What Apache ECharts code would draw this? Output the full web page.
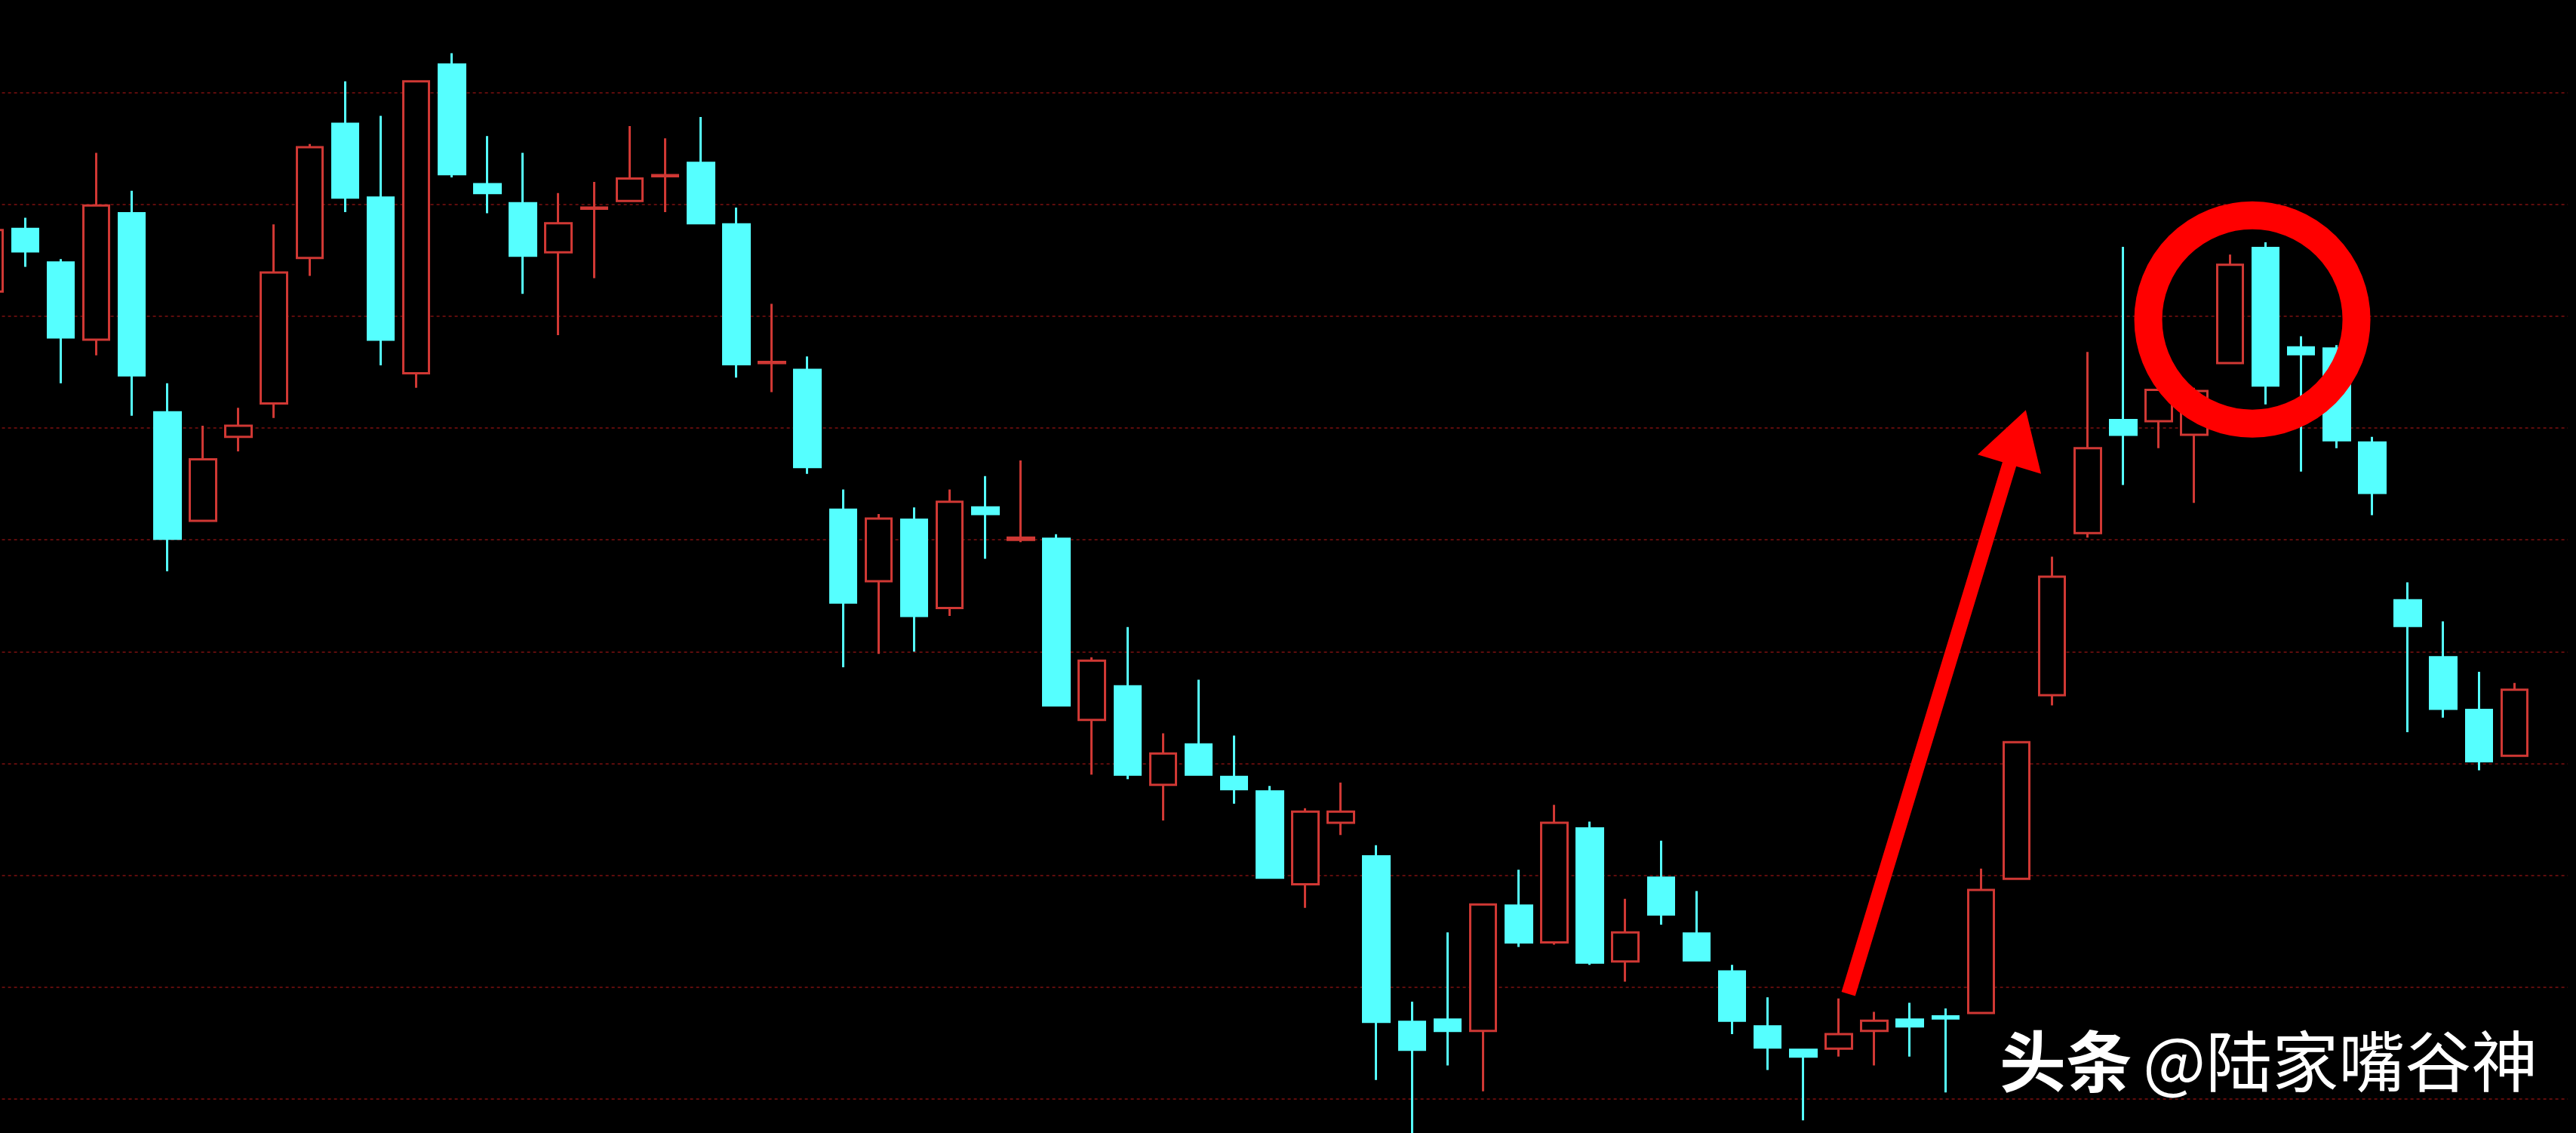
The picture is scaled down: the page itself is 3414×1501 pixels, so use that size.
<!DOCTYPE html>
<html>
<head>
<meta charset="utf-8">
<script src="https://cdn.jsdelivr.net/npm/echarts@6/dist/echarts.min.js"></script>
<style>
html,body{margin:0;padding:0;background:#000;}
#main{width:3414px;height:1501px;}
</style>
</head>
<body>
<div id="main"></div>
<script>
// ---- data (units are arbitrary price units, one grid step = 1) ----
const opens  = [17.22,17.78,17.48,16.79,17.92,16.14,15.17,15.92,16.22,17.52,18.72,18.06,16.49,19.25,18.18,18.01,17.57,17.96,18.03,18.25,18.37,17.82,16.58,16.52,15.27,14.63,15.18,14.39,15.29,15.00,15.01,13.39,13.69,12.81,13.17,12.88,12.75,11.92,12.47,12.17,10.69,10.71,10.61,11.73,11.40,12.42,11.23,11.98,11.48,11.14,10.65,10.44,10.45,10.61,10.71,10.74,10.77,11.97,13.61,15.06,16.07,16.06,15.94,16.58,17.61,16.72,16.71,15.87,14.46,13.95,13.48,13.07];
const closes = [17.77,17.58,16.81,17.99,16.47,15.01,15.72,16.02,17.39,18.51,18.06,16.79,19.10,18.27,18.10,17.54,17.83,17.97,18.23,18.26,17.83,16.57,16.59,15.65,14.44,15.19,14.32,15.34,15.23,15.02,13.52,13.92,12.90,13.09,12.90,12.77,11.98,12.57,12.57,10.69,10.44,10.61,11.74,11.40,12.47,11.22,11.49,11.65,11.24,10.70,10.46,10.38,10.58,10.70,10.65,10.72,11.87,13.19,14.67,15.82,15.94,16.34,16.33,17.46,16.38,16.66,15.89,15.42,14.23,13.49,13.02,13.66];
const lows   = [17.15,17.44,16.40,16.65,16.11,14.72,15.17,15.79,16.09,17.36,17.93,16.56,16.36,18.24,17.92,17.20,16.83,17.34,18.03,17.93,17.83,16.45,16.32,15.59,13.86,13.98,14.00,14.32,14.83,14.98,13.52,12.90,12.86,12.49,12.90,12.64,11.98,11.71,12.36,10.17,9.50,10.30,10.07,11.36,11.38,11.20,11.05,11.56,11.23,10.58,10.26,9.81,10.38,10.30,10.38,10.06,10.77,11.97,13.52,15.02,15.49,15.82,15.33,16.58,16.21,15.61,15.82,15.22,13.28,13.41,12.94,13.06];
const highs  = [17.85,17.88,17.51,18.46,18.12,16.40,16.02,16.18,17.82,18.54,19.10,18.79,19.10,19.35,18.61,18.46,18.10,18.20,18.70,18.59,18.78,17.97,17.11,16.64,15.45,15.23,15.29,15.45,15.57,15.71,15.05,13.95,14.22,13.27,13.75,13.25,12.80,12.60,12.83,12.27,10.87,11.49,11.74,12.05,12.63,12.48,11.79,12.31,11.86,11.20,10.91,10.44,10.90,10.78,10.86,10.81,12.06,13.19,14.85,16.68,17.62,16.42,16.36,17.55,17.66,16.82,16.74,15.92,14.62,14.27,13.82,13.72];
// 72 trading days plus one empty slot at the right edge
const days = Array.from({length: 73}, (_, i) => 'D' + (i + 1));
// annotations: arrow (from -> to) and highlight circle centre, in [day index, price]
const arrowFrom = [52.27, 10.94];
const arrowTo   = [57.26, 16.16];
const circleCenter = [63.63, 16.97];
const watermarkBold = '头条';
const watermarkName = '@陆家嘴谷神';

const kData = opens.map((o, i) => [o, closes[i], lows[i], highs[i]]);

const chart = echarts.init(document.getElementById('main'), null, {renderer: 'canvas'});
chart.setOption({
  backgroundColor: '#000',
  animation: false,
  grid: {left: -37.4, right: 10.9, top: -25.7, bottom: -103.2, containLabel: false, outerBoundsMode: 'none'},
  xAxis: [
    {type: 'category', data: days, boundaryGap: true, show: false},
    {type: 'value', min: -0.5, max: 72.5, show: false}
  ],
  yAxis: {
    type: 'value', min: 9, max: 20, interval: 1,
    axisLine: {show: false}, axisTick: {show: false}, axisLabel: {show: false},
    splitLine: {show: true, lineStyle: {color: '#5e0c0c', type: [4, 4], width: 2}}
  },
  series: [
    {
      type: 'candlestick',
      data: kData,
      xAxisIndex: 0, yAxisIndex: 0,
      barWidth: 35,
      itemStyle: {
        color: '#000', color0: '#55ffff',
        borderColor: '#d03834', borderColor0: '#55ffff',
        borderWidth: 3
      },
      emphasis: {disabled: true},
      z: 2
    },
    {
      type: 'custom',
      xAxisIndex: 1, yAxisIndex: 0,
      data: [[arrowFrom[0], arrowFrom[1], arrowTo[0], arrowTo[1]]],
      encode: {x: [0, 2], y: [1, 3]},
      silent: true, z: 5,
      renderItem: function (params, api) {
        const p0 = api.coord([api.value(0), api.value(1)]);
        const p1 = api.coord([api.value(2), api.value(3)]);
        const dx = p1[0] - p0[0], dy = p1[1] - p0[1];
        const len = Math.hypot(dx, dy);
        const ux = dx / len, uy = dy / len, nx = -uy, ny = ux;
        const sw = 19 / 2, hl = 75, hw = 88 / 2;
        const bx = p1[0] - ux * hl, by = p1[1] - uy * hl;
        return {
          type: 'polygon',
          shape: {points: [
            [p0[0] + nx * sw, p0[1] + ny * sw],
            [bx + nx * sw, by + ny * sw],
            [bx + nx * hw, by + ny * hw],
            p1,
            [bx - nx * hw, by - ny * hw],
            [bx - nx * sw, by - ny * sw],
            [p0[0] - nx * sw, p0[1] - ny * sw]
          ]},
          style: {fill: '#ff0000'}
        };
      }
    },
    {
      type: 'custom',
      xAxisIndex: 1, yAxisIndex: 0,
      data: [circleCenter],
      encode: {x: 0, y: 1},
      silent: true, z: 5,
      renderItem: function (params, api) {
        const c = api.coord([api.value(0), api.value(1)]);
        return {
          type: 'circle',
          shape: {cx: c[0], cy: c[1], r: 138},
          style: {fill: 'none', stroke: '#ff0000', lineWidth: 37}
        };
      }
    }
  ],
  graphic: [
    {type: 'text', left: 2650, top: 1362, z: 10,
     style: {text: watermarkBold, fill: '#ffffff', font: 'bold 88px "Noto Sans CJK SC"'}},
    {type: 'text', left: 2840, top: 1362, z: 10,
     style: {text: watermarkName, fill: '#ffffff', font: '88px "Noto Sans CJK SC"'}}
  ]
});
</script>
</body>
</html>
